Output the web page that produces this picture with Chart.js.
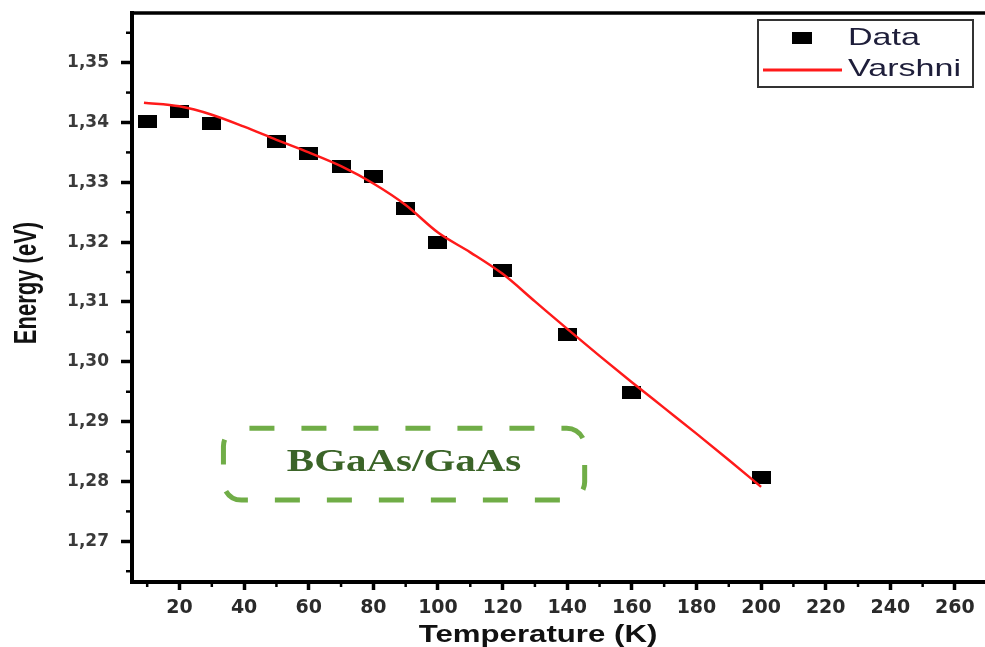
<!DOCTYPE html>
<html><head><meta charset="utf-8">
<style>html,body{margin:0;padding:0;background:#fff;overflow:hidden}</style>
<script src="https://cdn.jsdelivr.net/npm/chart.js@4.4.1/dist/chart.umd.min.js"></script>
</head><body>
<canvas id="c" width="985" height="647"></canvas>
<script>
// ---- data ----
const temps    = [10, 20, 30, 50, 60, 70, 80, 90, 100, 120, 140, 160, 200];
const energies = [1.3401, 1.3418, 1.3398, 1.3368, 1.3349, 1.3326, 1.3309, 1.3257, 1.3199, 1.3152, 1.3045, 1.2949, 1.2807];
const varshniT = [9, 20, 30, 40, 50, 60, 70, 80, 90, 100, 110, 120, 130, 140, 150, 160, 170, 180, 190, 200];
const varshniE = [1.3433, 1.3427, 1.3413, 1.3393, 1.3371, 1.3350, 1.3327, 1.3298, 1.3262, 1.3216, 1.3183, 1.3147, 1.3101, 1.3055, 1.3010, 1.2966, 1.2923, 1.2880, 1.2836, 1.2791];
const xTicks = [20, 40, 60, 80, 100, 120, 140, 160, 180, 200, 220, 240, 260];
const xMinorTicks = [10, 30, 50, 70, 90, 110, 130, 150, 170, 190, 210, 230, 250];
const yTicks = [1.27, 1.28, 1.29, 1.30, 1.31, 1.32, 1.33, 1.34, 1.35];
const yMinorTicks = [1.265, 1.275, 1.285, 1.295, 1.305, 1.315, 1.325, 1.335, 1.345, 1.355];
const xRange = [5.3, 269.3];
const yRange = [1.2632, 1.3583];
const labelBox = {t: [33.6, 145.4], e: [1.2769, 1.2889], text: 'BGaAs/GaAs'};
const seriesNames = ['Data', 'Varshni'];
const axisTitles = {x: 'Temperature (K)', y: 'Energy (eV)'};

// marker: black rectangle (wider than tall)
function rectMarker(w, h) {
  const cv = document.createElement('canvas');
  cv.width = w; cv.height = h;
  const g = cv.getContext('2d');
  g.fillStyle = '#000';
  g.fillRect(0, 0, w, h);
  return cv;
}
const marker = rectMarker(19, 13);
const legendMarker = rectMarker(20, 12);

const decorations = {
  id: 'decorations',
  afterDraw(chart) {
    const ctx = chart.ctx, a = chart.chartArea;
    const xs = chart.scales.x, ys = chart.scales.y;
    ctx.save();
    // top frame line
    ctx.strokeStyle = '#000';
    ctx.lineWidth = 3.5;
    ctx.beginPath(); ctx.moveTo(a.left - 2, a.top); ctx.lineTo(a.right, a.top); ctx.stroke();
    // minor ticks
    ctx.lineWidth = 2.5;
    yMinorTicks.forEach(v => {
      const y = ys.getPixelForValue(v);
      ctx.beginPath(); ctx.moveTo(a.left, y); ctx.lineTo(a.left - 6, y); ctx.stroke();
    });
    xMinorTicks.forEach(v => {
      const x = xs.getPixelForValue(v);
      ctx.beginPath(); ctx.moveTo(x, a.bottom); ctx.lineTo(x, a.bottom + 5); ctx.stroke();
    });

    // green dashed label box
    const bx1 = xs.getPixelForValue(labelBox.t[0]), bx2 = xs.getPixelForValue(labelBox.t[1]);
    const by1 = ys.getPixelForValue(labelBox.e[1]), by2 = ys.getPixelForValue(labelBox.e[0]);
    ctx.strokeStyle = '#70ad47';
    ctx.lineWidth = 5;
    ctx.setLineDash([25, 27]);
    ctx.lineDashOffset = -8;
    ctx.beginPath();
    if (ctx.roundRect) ctx.roundRect(bx1, by1, bx2 - bx1, by2 - by1, 18);
    else ctx.rect(bx1, by1, bx2 - bx1, by2 - by1);
    ctx.stroke();
    ctx.setLineDash([]);
    ctx.save();
    ctx.translate((bx1 + bx2) / 2, (by1 + by2) / 2);
    ctx.scale(1.28, 1);
    ctx.font = 'bold 32px "Liberation Serif", "Times New Roman", serif';
    ctx.fillStyle = '#3b6428';
    ctx.textAlign = 'center';
    ctx.textBaseline = 'middle';
    ctx.fillText(labelBox.text, 0, -1);
    ctx.restore();

    // legend box
    const lx = a.right - 227, ly = a.top + 7, lw = 215, lh = 67;
    ctx.strokeStyle = '#333';
    ctx.lineWidth = 2;
    ctx.strokeRect(lx, ly, lw, lh);
    const ds0 = chart.data.datasets[0], ds1 = chart.data.datasets[1];
    ctx.drawImage(legendMarker, lx + 44 - 10, ly + 18 - 6);
    ctx.strokeStyle = ds1.borderColor;
    ctx.lineWidth = 3;
    ctx.beginPath(); ctx.moveTo(lx + 5, ly + 50); ctx.lineTo(lx + 84, ly + 50); ctx.stroke();
    ctx.fillStyle = '#1e1e3a';
    ctx.font = '24px "Liberation Sans", Arial, sans-serif';
    ctx.textAlign = 'left';
    ctx.textBaseline = 'alphabetic';
    [ds0.label, ds1.label].forEach((t, i) => {
      ctx.save();
      ctx.translate(lx + 90, ly + 25 + i * 31);
      ctx.scale(1.42, 1);
      ctx.fillText(t, 0, 0);
      ctx.restore();
    });

    // axis titles
    ctx.fillStyle = '#111';
    ctx.save();
    ctx.translate(538, 642);
    ctx.scale(1.3, 1);
    ctx.font = 'bold 24px "Liberation Sans", Arial, sans-serif';
    ctx.textAlign = 'center';
    ctx.fillText(axisTitles.x, 0, 0);
    ctx.restore();
    ctx.save();
    ctx.translate(36, 283);
    ctx.rotate(-Math.PI / 2);
    ctx.scale(1, 1.4);
    ctx.font = 'bold 22px "Liberation Sans", Arial, sans-serif';
    ctx.textAlign = 'center';
    ctx.fillText(axisTitles.y, 0, 0);
    ctx.restore();
    ctx.restore();
  }
};

new Chart(document.getElementById('c'), {
  type: 'scatter',
  data: {
    datasets: [
      {
        label: seriesNames[0],
        data: temps.map((t, i) => ({x: t, y: energies[i]})),
        pointStyle: marker,
        pointRadius: 9,
        showLine: false,
        order: 1
      },
      {
        label: seriesNames[1],
        data: varshniT.map((t, i) => ({x: t, y: varshniE[i]})),
        showLine: true,
        borderColor: '#ff1a1a',
        borderWidth: 2.5,
        pointRadius: 0,
        cubicInterpolationMode: 'monotone',
        fill: false,
        order: 0
      }
    ]
  },
  options: {
    responsive: false,
    animation: false,
    devicePixelRatio: 1,
    layout: {autoPadding: false, padding: {top: 13, right: 0, left: 0, bottom: 0}},
    plugins: {legend: {display: false}, tooltip: {enabled: false}},
    scales: {
      x: {
        type: 'linear',
        min: xRange[0], max: xRange[1],
        afterBuildTicks: s => { s.ticks = xTicks.map(v => ({value: v})); },
        afterFit: s => { s.height = 65; s.paddingLeft = 0; s.paddingRight = 0; },
        ticks: {
          autoSkip: false, maxRotation: 0,
          padding: 7,
          color: '#2a2a2a',
          font: {family: '"DejaVu Sans", sans-serif', size: 19, weight: 'bold'},
          callback: v => String(v)
        },
        grid: {display: true, drawOnChartArea: false, drawTicks: true, tickLength: 8, tickWidth: 3.5, tickColor: '#000'},
        border: {display: true, width: 4, color: '#000'},
        title: {display: false}
      },
      y: {
        type: 'linear',
        min: yRange[0], max: yRange[1],
        afterBuildTicks: s => { s.ticks = yTicks.map(v => ({value: v})); },
        afterFit: s => { s.width = 132; s.paddingTop = 0; s.paddingBottom = 0; },
        ticks: {
          autoSkip: false,
          padding: 12,
          color: '#3a3a3a',
          font: {family: '"DejaVu Sans", sans-serif', size: 17, weight: 'bold'},
          callback: v => v.toFixed(2).replace('.', ',')
        },
        grid: {display: true, drawOnChartArea: false, drawTicks: true, tickLength: 11, tickWidth: 3.5, tickColor: '#000'},
        border: {display: true, width: 4, color: '#000'},
        title: {display: false}
      }
    }
  },
  plugins: [decorations]
});
</script>
</body></html>
